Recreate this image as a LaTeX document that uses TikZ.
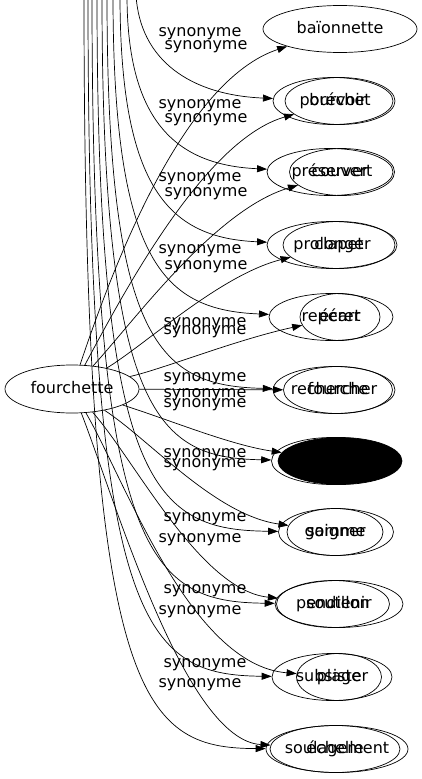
\documentclass[tikz,border=0pt]{standalone}
\usepackage{fontspec}
\setmainfont{DejaVu Sans}
\usetikzlibrary{arrows.meta, shapes.geometric}

\begin{document}
\begin{tikzpicture}[x=1pt, y=-1pt,
    word/.style={draw, ellipse, inner xsep=-40pt, inner ysep=0pt, minimum height=47pt,
                 text height=11pt, text depth=3pt,
                 line width=0.7pt, font=\fontsize{16}{18}\selectfont},
    rel/.style={-{Triangle[length=10pt, width=7pt]}, line width=0.7pt},
    syn/.style={inner sep=0pt, text height=9pt, text depth=3pt, font=\fontsize{16}{18}\selectfont}
]
    \path[use as bounding box] (0,0) rectangle (422,779);
    \clip (0,0) rectangle (422,779);

    % left node and the free ends above the picture
    \node[word, minimum width=134pt, minimum height=48pt] (fourchette) at (72,389) {fourchette};
    \foreach \x [count=\i] in {136,127,120,113,107,102,97,92,88,84}
        \coordinate (top\i) at (\x,-5);

    % right column, two nodes per row
    \node[word, minimum width=154pt] (baionnette) at (340,29) {baïonnette};
    \node[word, minimum width=120pt] (pourvoir) at (333,101) {pourvoir};
    \node[word, minimum width=110pt] (brechet) at (340,101) {bréchet};
    \node[word, minimum width=126pt] (preserver) at (330,172) {préserver};
    \node[word, minimum width=105pt] (couvert) at (342,172) {couvert};
    \node[word, minimum width=130pt] (prolonger) at (332,245) {prolonger};
    \node[word, minimum width=112pt] (clapet) at (339,245) {clapet};
    \node[word, minimum width=124pt] (reperer) at (331,317) {repérer};
    \node[word, minimum width=80pt] (ecart) at (340,317) {écart};
    \node[word, minimum width=122pt] (rechercher) at (334,390) {rechercher};
    \node[word, minimum width=109pt] (fourche) at (338,390) {fourche};
    \node[word, minimum width=121pt] (blank) at (332,461) {};
    \node[word, minimum width=124pt, fill=black] (dark) at (340,461) {};
    \node[word, minimum width=115pt] (soigner) at (336,532) {soigner};
    \node[word, minimum width=96pt] (gamme) at (335,532) {gamme};
    \node[word, minimum width=128pt] (soutenir) at (339,604) {soutenir};
    \node[word, minimum width=113pt] (pendillon) at (333,604) {pendillon};
    \node[word, minimum width=120pt] (subsister) at (332,677) {subsister};
    \node[word, minimum width=85pt] (plage) at (339,677) {plage};
    \node[word, minimum width=142pt] (soulagement) at (337,749) {soulagement};
    \node[word, minimum width=130pt] (echelle) at (335,749) {échelle};

    % edges out of fourchette
    \draw[rel] (fourchette) .. controls (115,260) and (185,80) .. (baionnette);
    \draw[rel] (fourchette) .. controls (125,290) and (205,140) .. (brechet);
    \draw[rel] (fourchette) .. controls (135,320) and (215,210) .. (couvert);
    \draw[rel] (fourchette) .. controls (145,345) and (220,275) .. (clapet);
    \draw[rel] (fourchette) .. controls (160,370) and (235,340) .. (ecart);
    \draw[rel] (fourchette) -- (fourche);
    \draw[rel] (fourchette) .. controls (170,420) and (230,445) .. (dark);
    \draw[rel] (fourchette) .. controls (150,440) and (215,515) .. (gamme);
    \draw[rel] (fourchette) .. controls (135,460) and (200,590) .. (pendillon);
    \draw[rel] (fourchette) .. controls (125,480) and (190,665) .. (plage);
    \draw[rel] (fourchette) .. controls (115,500) and (185,740) .. (echelle);

    % edges coming down from above
    \draw[rel] (top1) .. controls (140,60) and (190,95) .. (pourvoir);
    \draw[rel] (top2) .. controls (127,120) and (175,165) .. (preserver);
    \draw[rel] (top3) .. controls (120,190) and (170,238) .. (prolonger);
    \draw[rel] (top4) .. controls (113,265) and (165,310) .. (reperer);
    \draw[rel] (top5) .. controls (107,345) and (160,386) .. (rechercher);
    \draw[rel] (top6) .. controls (102,420) and (160,458) .. (blank);
    \draw[rel] (top7) .. controls (97,490) and (155,530) .. (soigner);
    \draw[rel] (top8) .. controls (92,560) and (150,602) .. (soutenir);
    \draw[rel] (top9) .. controls (88,630) and (145,675) .. (subsister);
    \draw[rel] (top10) .. controls (84,700) and (140,748) .. (soulagement);

    % edge labels
    \foreach \x/\y [count=\i] in {200/33, 206/46, 200/105, 206/119, 200/178, 206/193,
        200/250, 206/266, 205/323, 205/331, 205/378, 205/394, 205/404, 205/454,
        205/464, 205/518, 200/539, 205/590, 200/611, 205/664, 200/684}
        \node[syn] (syn\i) at (\x,\y) {synonyme};
\end{tikzpicture}
\end{document}
